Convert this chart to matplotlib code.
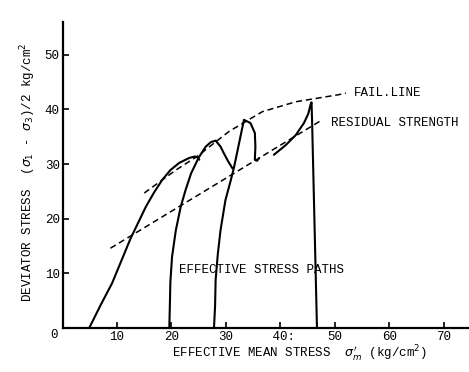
import matplotlib
matplotlib.use("Agg")
from matplotlib import pyplot as plt

plt.rcParams['font.family'] = ['Liberation Mono', 'DejaVu Sans']
plt.rcParams['mathtext.fontset'] = 'dejavusans'

# effective stress paths (mean stress, deviator stress)
path1_x = [4.9, 7.0, 9.1, 10.8, 12.5, 14.0, 15.3, 16.8, 18.3, 19.8, 21.4, 23.2, 24.3, 24.8, 25.1]
path1_y = [0.0, 4.2, 8.2, 12.3, 16.4, 19.5, 22.2, 24.8, 27.1, 28.9, 30.2, 31.1, 31.4, 31.2, 30.8]

path2_x = [19.6, 19.7, 19.8, 20.1, 20.8, 21.7, 22.6, 23.6, 25.0, 26.3, 27.2, 28.1, 29.0, 29.6, 30.4, 31.2]
path2_y = [0.0, 4.0, 8.5, 13.0, 17.9, 22.2, 25.3, 28.3, 31.2, 33.2, 34.0, 34.3, 33.2, 32.0, 30.5, 29.2]

path3_x = [27.8, 28.0, 28.1, 28.5, 29.0, 29.9, 30.9, 31.5, 32.4, 33.3, 34.5, 35.3, 35.4, 35.3, 35.7, 36.1]
path3_y = [0.0, 4.0, 8.8, 13.5, 17.9, 23.4, 27.1, 29.5, 33.8, 38.1, 37.5, 35.7, 33.2, 30.8, 30.6, 31.1]

path4_x = [38.8, 41.0, 42.8, 44.3, 45.1, 45.5, 45.7, 45.8, 46.7]
path4_y = [31.7, 33.5, 35.3, 37.5, 39.2, 40.8, 41.3, 38.0, 0.0]

fail_x = [15.0, 20.8, 24.7, 30.6, 36.7, 42.8, 50.7, 52.0]
fail_y = [24.7, 28.9, 31.4, 36.0, 39.6, 41.4, 42.7, 43.0]

resid_x = [8.8, 47.5]
resid_y = [14.6, 38.0]

xticks = [10, 20, 30, 40, 50, 60, 70]
xtick_labels = ['10', '20', '30', ' 40:', '50', '60', '70']
yticks = [10, 20, 30, 40, 50]

fig = plt.figure(figsize=(4.69, 3.72), dpi=100)
ax = fig.add_axes([62.5 / 469, 44 / 372, 1 - 62.5 / 469, 306 / 372])

for px, py in [(path1_x, path1_y), (path2_x, path2_y), (path3_x, path3_y), (path4_x, path4_y)]:
    ax.plot(px, py, color='black', lw=1.5, solid_capstyle='round')

ax.plot(fail_x, fail_y, color='black', lw=1.1, linestyle=(0, (4, 2.5)))
ax.plot(resid_x, resid_y, color='black', lw=1.1, linestyle=(0, (4, 2.5)))

ax.text(53.5, 43.0, 'FAIL.LINE', fontsize=9, va='center', ha='left')
ax.text(49.3, 37.5, 'RESIDUAL STRENGTH', fontsize=9, va='center', ha='left')
ax.text(21.4, 10.6, 'EFFECTIVE STRESS PATHS', fontsize=9, va='center', ha='left')

ax.set_xlim(0, 74.6)
ax.set_ylim(0, 56)
ax.set_xticks(xticks)
ax.set_xticklabels(xtick_labels)
ax.set_yticks(yticks)
ax.tick_params(direction='in', length=4, width=1.2, labelsize=9, pad=2)

for side in ['top', 'right']:
    ax.spines[side].set_visible(False)
for side in ['left', 'bottom']:
    ax.spines[side].set_linewidth(1.6)

fig.text(54 / 469, 1 - 335 / 372, '0', fontsize=9, ha='center', va='center')
fig.text(300 / 469, 1 - 354 / 372, r'EFFECTIVE MEAN STRESS  $\sigma^{\prime}_{m}$ (kg/cm$^2$)',
         fontsize=9, ha='center', va='center')
fig.text(28 / 469, 1 - 172 / 372, r'DEVIATOR STRESS  ($\sigma_1$ - $\sigma_3$)/2 kg/cm$^2$',
         fontsize=9, ha='center', va='center', rotation=90)

fig.savefig('out.png', dpi=100)
